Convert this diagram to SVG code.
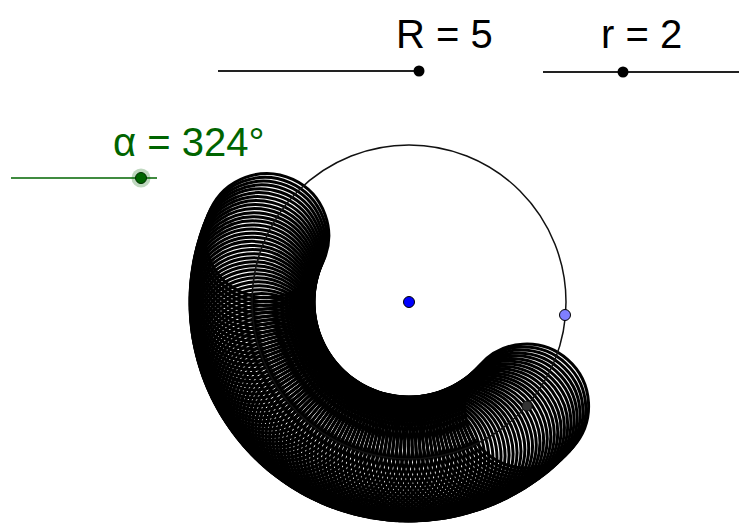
<svg xmlns="http://www.w3.org/2000/svg" xmlns:xlink="http://www.w3.org/1999/xlink" width="739" height="525" viewBox="0 0 739 525">
<style>
.lbl{font-family:"Liberation Sans",Arial,sans-serif;font-size:40px;}
.blk{fill:#000;}
.grn{fill:#006400;}
.sl{stroke:#222;stroke-width:2;fill:none;}
.slg{stroke:#006400;stroke-width:1.6;fill:none;}
.tr{fill:none;stroke:#000;stroke-width:3;}
.pt{stroke:#000;stroke-width:1;}
</style>
<defs>
<circle id="sc" cx="566" cy="302" r="62" class="tr"/>
</defs>
<rect width="739" height="525" fill="#fff"/>
<g id="trace">
<use xlink:href="#sc" transform="rotate(41.5 409 302)"/><use xlink:href="#sc" transform="rotate(43 409 302)"/><use xlink:href="#sc" transform="rotate(44.5 409 302)"/><use xlink:href="#sc" transform="rotate(46 409 302)"/><use xlink:href="#sc" transform="rotate(47.5 409 302)"/><use xlink:href="#sc" transform="rotate(49 409 302)"/><use xlink:href="#sc" transform="rotate(50.5 409 302)"/><use xlink:href="#sc" transform="rotate(52 409 302)"/><use xlink:href="#sc" transform="rotate(53.5 409 302)"/><use xlink:href="#sc" transform="rotate(55 409 302)"/>
<use xlink:href="#sc" transform="rotate(56.5 409 302)"/><use xlink:href="#sc" transform="rotate(58 409 302)"/><use xlink:href="#sc" transform="rotate(59.5 409 302)"/><use xlink:href="#sc" transform="rotate(61 409 302)"/><use xlink:href="#sc" transform="rotate(62.5 409 302)"/><use xlink:href="#sc" transform="rotate(64 409 302)"/><use xlink:href="#sc" transform="rotate(65.5 409 302)"/><use xlink:href="#sc" transform="rotate(67 409 302)"/><use xlink:href="#sc" transform="rotate(68.5 409 302)"/><use xlink:href="#sc" transform="rotate(70 409 302)"/>
<use xlink:href="#sc" transform="rotate(71.5 409 302)"/><use xlink:href="#sc" transform="rotate(73 409 302)"/><use xlink:href="#sc" transform="rotate(74.5 409 302)"/><use xlink:href="#sc" transform="rotate(76 409 302)"/><use xlink:href="#sc" transform="rotate(77.5 409 302)"/><use xlink:href="#sc" transform="rotate(79 409 302)"/><use xlink:href="#sc" transform="rotate(80.5 409 302)"/><use xlink:href="#sc" transform="rotate(82 409 302)"/><use xlink:href="#sc" transform="rotate(83.5 409 302)"/><use xlink:href="#sc" transform="rotate(85 409 302)"/>
<use xlink:href="#sc" transform="rotate(86.5 409 302)"/><use xlink:href="#sc" transform="rotate(88 409 302)"/><use xlink:href="#sc" transform="rotate(89.5 409 302)"/><use xlink:href="#sc" transform="rotate(91 409 302)"/><use xlink:href="#sc" transform="rotate(92.5 409 302)"/><use xlink:href="#sc" transform="rotate(94 409 302)"/><use xlink:href="#sc" transform="rotate(95.5 409 302)"/><use xlink:href="#sc" transform="rotate(97 409 302)"/><use xlink:href="#sc" transform="rotate(98.5 409 302)"/><use xlink:href="#sc" transform="rotate(100 409 302)"/>
<use xlink:href="#sc" transform="rotate(101.5 409 302)"/><use xlink:href="#sc" transform="rotate(103 409 302)"/><use xlink:href="#sc" transform="rotate(104.5 409 302)"/><use xlink:href="#sc" transform="rotate(106 409 302)"/><use xlink:href="#sc" transform="rotate(107.5 409 302)"/><use xlink:href="#sc" transform="rotate(109 409 302)"/><use xlink:href="#sc" transform="rotate(110.5 409 302)"/><use xlink:href="#sc" transform="rotate(112 409 302)"/><use xlink:href="#sc" transform="rotate(113.5 409 302)"/><use xlink:href="#sc" transform="rotate(115 409 302)"/>
<use xlink:href="#sc" transform="rotate(116.5 409 302)"/><use xlink:href="#sc" transform="rotate(118 409 302)"/><use xlink:href="#sc" transform="rotate(119.5 409 302)"/><use xlink:href="#sc" transform="rotate(121 409 302)"/><use xlink:href="#sc" transform="rotate(122.5 409 302)"/><use xlink:href="#sc" transform="rotate(124 409 302)"/><use xlink:href="#sc" transform="rotate(125.5 409 302)"/><use xlink:href="#sc" transform="rotate(127 409 302)"/><use xlink:href="#sc" transform="rotate(128.5 409 302)"/><use xlink:href="#sc" transform="rotate(130 409 302)"/>
<use xlink:href="#sc" transform="rotate(131.5 409 302)"/><use xlink:href="#sc" transform="rotate(133 409 302)"/><use xlink:href="#sc" transform="rotate(134.5 409 302)"/><use xlink:href="#sc" transform="rotate(136 409 302)"/><use xlink:href="#sc" transform="rotate(137.5 409 302)"/><use xlink:href="#sc" transform="rotate(139 409 302)"/><use xlink:href="#sc" transform="rotate(140.5 409 302)"/><use xlink:href="#sc" transform="rotate(142 409 302)"/><use xlink:href="#sc" transform="rotate(143.5 409 302)"/><use xlink:href="#sc" transform="rotate(145 409 302)"/>
<use xlink:href="#sc" transform="rotate(146.5 409 302)"/><use xlink:href="#sc" transform="rotate(148 409 302)"/><use xlink:href="#sc" transform="rotate(149.5 409 302)"/><use xlink:href="#sc" transform="rotate(151 409 302)"/><use xlink:href="#sc" transform="rotate(152.5 409 302)"/><use xlink:href="#sc" transform="rotate(154 409 302)"/><use xlink:href="#sc" transform="rotate(155.5 409 302)"/><use xlink:href="#sc" transform="rotate(157 409 302)"/><use xlink:href="#sc" transform="rotate(158.5 409 302)"/><use xlink:href="#sc" transform="rotate(160 409 302)"/>
<use xlink:href="#sc" transform="rotate(161.5 409 302)"/><use xlink:href="#sc" transform="rotate(163 409 302)"/><use xlink:href="#sc" transform="rotate(164.5 409 302)"/><use xlink:href="#sc" transform="rotate(166 409 302)"/><use xlink:href="#sc" transform="rotate(167.5 409 302)"/><use xlink:href="#sc" transform="rotate(169 409 302)"/><use xlink:href="#sc" transform="rotate(170.5 409 302)"/><use xlink:href="#sc" transform="rotate(172 409 302)"/><use xlink:href="#sc" transform="rotate(173.5 409 302)"/><use xlink:href="#sc" transform="rotate(175 409 302)"/>
<use xlink:href="#sc" transform="rotate(176.5 409 302)"/><use xlink:href="#sc" transform="rotate(178 409 302)"/><use xlink:href="#sc" transform="rotate(179.5 409 302)"/><use xlink:href="#sc" transform="rotate(181 409 302)"/><use xlink:href="#sc" transform="rotate(182.5 409 302)"/><use xlink:href="#sc" transform="rotate(184 409 302)"/><use xlink:href="#sc" transform="rotate(185.5 409 302)"/><use xlink:href="#sc" transform="rotate(187 409 302)"/><use xlink:href="#sc" transform="rotate(188.5 409 302)"/><use xlink:href="#sc" transform="rotate(190 409 302)"/>
<use xlink:href="#sc" transform="rotate(191.5 409 302)"/><use xlink:href="#sc" transform="rotate(193 409 302)"/><use xlink:href="#sc" transform="rotate(194.5 409 302)"/><use xlink:href="#sc" transform="rotate(196 409 302)"/><use xlink:href="#sc" transform="rotate(197.5 409 302)"/><use xlink:href="#sc" transform="rotate(199 409 302)"/><use xlink:href="#sc" transform="rotate(200.5 409 302)"/><use xlink:href="#sc" transform="rotate(202 409 302)"/><use xlink:href="#sc" transform="rotate(203.5 409 302)"/><use xlink:href="#sc" transform="rotate(205 409 302)"/>
</g>
<g id="bigCircle">
<circle cx="409" cy="302" r="157" fill="none" stroke="#111" stroke-width="1.5"/>
</g>
<g id="points">
<circle id="centerPoint" cx="409" cy="302" r="5.5" fill="#0000ff" class="pt"/>
<circle id="circlePoint" cx="565" cy="315" r="5.5" fill="#7f7fff" class="pt"/>
<circle id="smallCenter" cx="527" cy="406" r="5" fill="#333" stroke="#111" stroke-width="1"/>
</g>
<g id="sliderR">
<line x1="218" y1="71" x2="419" y2="71" class="sl"/>
<circle cx="419" cy="71" r="5.5" fill="#000"/>
<text x="396" y="48" class="lbl blk">R = 5</text>
</g>
<g id="sliderr">
<line x1="543" y1="72" x2="739" y2="72" class="sl"/>
<circle cx="623" cy="72" r="5.5" fill="#000"/>
<text x="601" y="48" class="lbl blk">r = 2</text>
</g>
<g id="sliderAlpha">
<line x1="11" y1="178" x2="157" y2="178" class="slg"/>
<circle cx="141" cy="178" r="9.5" fill="#006400" opacity="0.25"/>
<circle cx="141" cy="178" r="5.5" fill="#006400" stroke="#003000" stroke-width="1"/>
<text x="113" y="156" class="lbl grn">α = 324°</text>
</g>
</svg>
